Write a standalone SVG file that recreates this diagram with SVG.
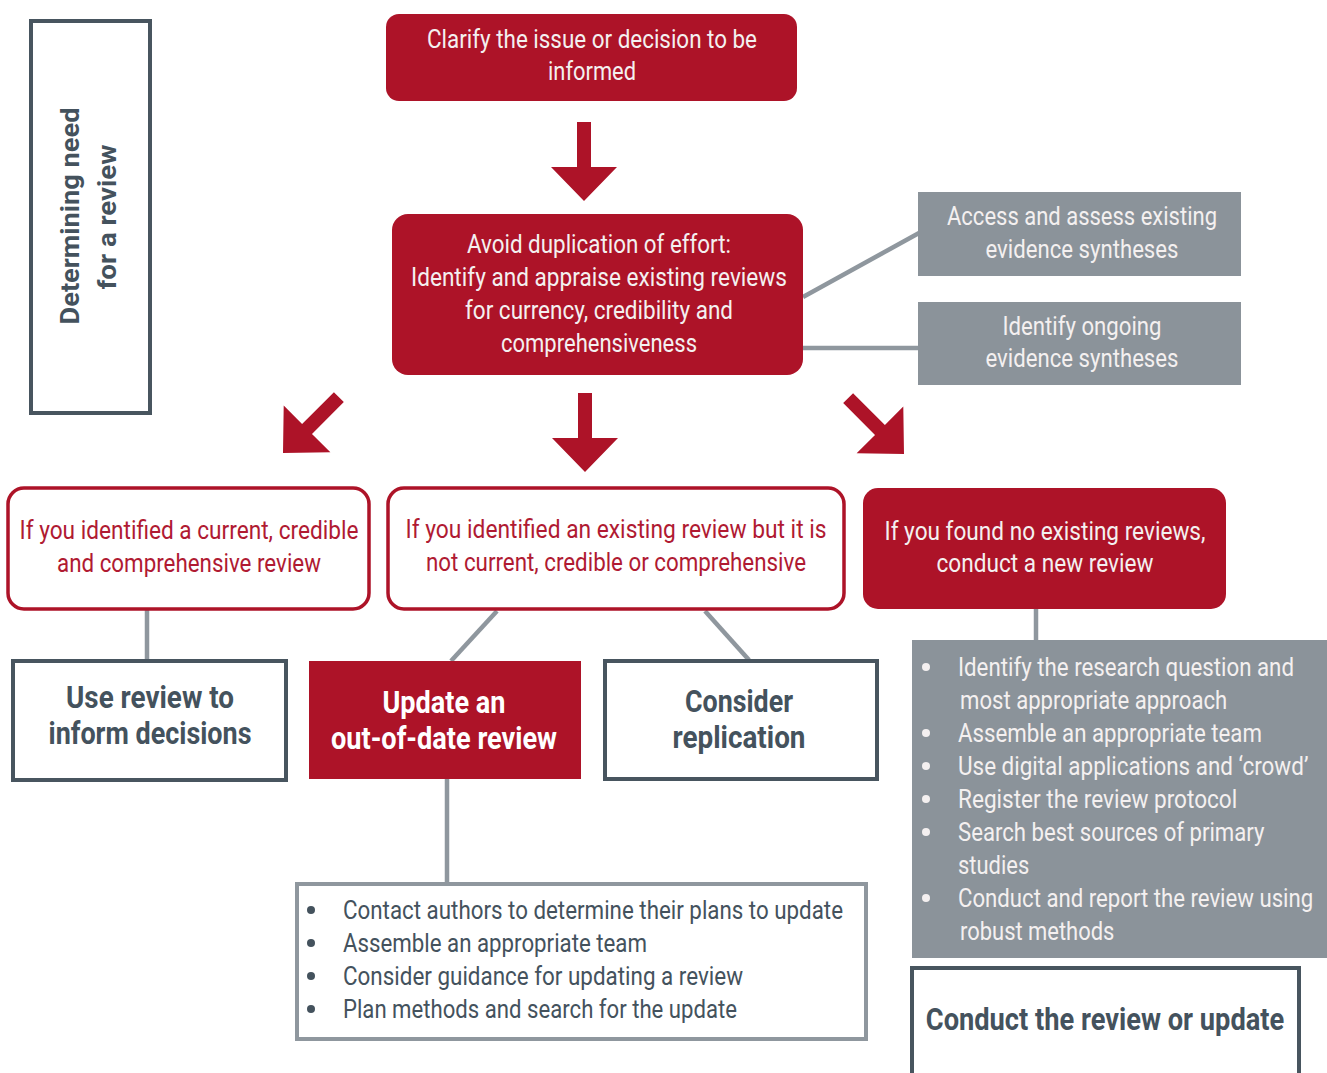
<svg xmlns="http://www.w3.org/2000/svg" width="1327" height="1073" viewBox="0 0 1327 1073">
<defs>
<style>
text{font-family:Roboto,"Liberation Sans",sans-serif;}
.t{font-size:25px;text-anchor:middle;}
.tl{font-size:25px;}
.w{fill:#f4f0f0;}
.r{fill:#b01a32;}
.s{fill:#44525d;}
.b{font-weight:bold;font-size:31px;text-anchor:middle;fill:#44525d;}
.bw{font-weight:bold;font-size:31px;text-anchor:middle;fill:#ffffff;}
.redbox{fill:#ad1328;}
.redline{fill:#ffffff;stroke:#ad1328;stroke-width:3.5;}
.slate{fill:#ffffff;stroke:#48555f;stroke-width:4;}
.graybox{fill:#8b939a;}
.conn{stroke:#8f979e;stroke-width:4.5;fill:none;}
.arrow{fill:#ad1328;}
</style>
<path id="arr" d="M -7,-79 H 7 V -34 H 33 L 0,0 L -33,-34 H -7 Z"/>
</defs>

<g id="connectors">
<line class="conn" x1="803" y1="297" x2="919" y2="233"/>
<line class="conn" x1="803" y1="348" x2="919" y2="348"/>
<line class="conn" x1="147" y1="610" x2="147" y2="660"/>
<line class="conn" x1="497" y1="611" x2="451" y2="661"/>
<line class="conn" x1="705" y1="611" x2="749" y2="660"/>
<line class="conn" x1="447" y1="779" x2="447" y2="884"/>
<line class="conn" x1="1036" y1="609" x2="1036" y2="641"/>
<use href="#arr" class="arrow" transform="translate(584,201)"/>
<use href="#arr" class="arrow" transform="translate(585,472)"/>
<use href="#arr" class="arrow" transform="translate(283,453) rotate(45)"/>
<use href="#arr" class="arrow" transform="translate(904,454) rotate(-45)"/>
</g>

<g id="stage-label">
<rect x="31" y="21" width="119" height="392" fill="#ffffff" stroke="#48555f" stroke-width="4"/>
<text transform="translate(79,216) rotate(-90)" font-size="25" font-weight="bold" text-anchor="middle" fill="#44525d" textLength="217" lengthAdjust="spacingAndGlyphs">Determining need</text>
<text transform="translate(116,217) rotate(-90)" font-size="25" font-weight="bold" text-anchor="middle" fill="#44525d" textLength="145" lengthAdjust="spacingAndGlyphs">for a review</text>
</g>

<g id="clarify">
<rect class="redbox" x="386" y="14" width="411" height="87" rx="13"/>
<text class="t w" x="592" y="48" textLength="330" lengthAdjust="spacingAndGlyphs">Clarify the issue or decision to be</text>
<text class="t w" x="592" y="80" textLength="88" lengthAdjust="spacingAndGlyphs">informed</text>
</g>

<g id="avoid-duplication">
<rect class="redbox" x="392" y="214" width="411" height="161" rx="16"/>
<text class="t w" x="599" y="253" textLength="264" lengthAdjust="spacingAndGlyphs">Avoid duplication of effort:</text>
<text class="t w" x="599" y="286" textLength="376" lengthAdjust="spacingAndGlyphs">Identify and appraise existing reviews</text>
<text class="t w" x="599" y="319" textLength="268" lengthAdjust="spacingAndGlyphs">for currency, credibility and</text>
<text class="t w" x="599" y="352" textLength="196" lengthAdjust="spacingAndGlyphs">comprehensiveness</text>
</g>

<g id="access-assess">
<rect class="graybox" x="918" y="192" width="323" height="84"/>
<text class="t w" x="1082" y="225" textLength="270" lengthAdjust="spacingAndGlyphs">Access and assess existing</text>
<text class="t w" x="1082" y="258" textLength="193" lengthAdjust="spacingAndGlyphs">evidence syntheses</text>
</g>

<g id="identify-ongoing">
<rect class="graybox" x="918" y="302" width="323" height="83"/>
<text class="t w" x="1082" y="335" textLength="159" lengthAdjust="spacingAndGlyphs">Identify ongoing</text>
<text class="t w" x="1082" y="367" textLength="193" lengthAdjust="spacingAndGlyphs">evidence syntheses</text>
</g>

<g id="current-review">
<rect class="redline" x="8" y="488" width="361" height="121" rx="16"/>
<text class="t r" x="189" y="539" textLength="339" lengthAdjust="spacingAndGlyphs">If you identified a current, credible</text>
<text class="t r" x="189" y="572" textLength="264" lengthAdjust="spacingAndGlyphs">and comprehensive review</text>
</g>

<g id="existing-not-current">
<rect class="redline" x="388" y="488" width="456" height="121" rx="16"/>
<text class="t r" x="616" y="538" textLength="421" lengthAdjust="spacingAndGlyphs">If you identified an existing review but it is</text>
<text class="t r" x="616" y="571" textLength="380" lengthAdjust="spacingAndGlyphs">not current, credible or comprehensive</text>
</g>

<g id="no-existing">
<rect class="redbox" x="863" y="488" width="363" height="121" rx="15"/>
<text class="t w" x="1045" y="540" textLength="321" lengthAdjust="spacingAndGlyphs">If you found no existing reviews,</text>
<text class="t w" x="1045" y="572" textLength="217" lengthAdjust="spacingAndGlyphs">conduct a new review</text>
</g>

<g id="use-review">
<rect class="slate" x="13" y="661" width="273" height="119"/>
<text class="b" x="150" y="708" textLength="168" lengthAdjust="spacingAndGlyphs">Use review to</text>
<text class="b" x="150" y="744" textLength="203" lengthAdjust="spacingAndGlyphs">inform decisions</text>
</g>

<g id="update-review">
<rect class="redbox" x="309" y="661" width="272" height="118"/>
<text class="bw" x="444" y="713" textLength="123" lengthAdjust="spacingAndGlyphs">Update an</text>
<text class="bw" x="444" y="749" textLength="226" lengthAdjust="spacingAndGlyphs">out-of-date review</text>
</g>

<g id="replication">
<rect class="slate" x="605" y="661" width="272" height="118"/>
<text class="b" x="739" y="712" textLength="108" lengthAdjust="spacingAndGlyphs">Consider</text>
<text class="b" x="739" y="748" textLength="133" lengthAdjust="spacingAndGlyphs">replication</text>
</g>

<g id="update-steps">
<rect x="297" y="884" width="569" height="155" fill="#ffffff" stroke="#8f979e" stroke-width="4"/>
<g class="s">
<circle cx="311" cy="910" r="4"/>
<circle cx="311" cy="943" r="4"/>
<circle cx="311" cy="976" r="4"/>
<circle cx="311" cy="1009" r="4"/>
</g>
<text class="tl s" x="343" y="919" textLength="500" lengthAdjust="spacingAndGlyphs">Contact authors to determine their plans to update</text>
<text class="tl s" x="343" y="952" textLength="304" lengthAdjust="spacingAndGlyphs">Assemble an appropriate team</text>
<text class="tl s" x="343" y="985" textLength="400" lengthAdjust="spacingAndGlyphs">Consider guidance for updating a review</text>
<text class="tl s" x="343" y="1018" textLength="394" lengthAdjust="spacingAndGlyphs">Plan methods and search for the update</text>
</g>

<g id="new-review-steps">
<rect class="graybox" x="912" y="640" width="415" height="318"/>
<g class="w">
<circle cx="926" cy="667" r="4"/>
<circle cx="926" cy="733" r="4"/>
<circle cx="926" cy="766" r="4"/>
<circle cx="926" cy="799" r="4"/>
<circle cx="926" cy="832" r="4"/>
<circle cx="926" cy="898" r="4"/>
</g>
<text class="tl w" transform="translate(958,676) scale(0.8,1)" textLength="420" lengthAdjust="spacingAndGlyphs">Identify the research question and</text>
<text class="tl w" transform="translate(960,709) scale(0.8,1)" textLength="334" lengthAdjust="spacingAndGlyphs">most appropriate approach</text>
<text class="tl w" transform="translate(958,742) scale(0.8,1)" textLength="380" lengthAdjust="spacingAndGlyphs">Assemble an appropriate team</text>
<text class="tl w" transform="translate(958,775) scale(0.8,1)" textLength="438" lengthAdjust="spacingAndGlyphs">Use digital applications and ‘crowd’</text>
<text class="tl w" transform="translate(958,808) scale(0.8,1)" textLength="349" lengthAdjust="spacingAndGlyphs">Register the review protocol</text>
<text class="tl w" transform="translate(958,841) scale(0.8,1)" textLength="383" lengthAdjust="spacingAndGlyphs">Search best sources of primary</text>
<text class="tl w" transform="translate(958,874) scale(0.8,1)" textLength="89" lengthAdjust="spacingAndGlyphs">studies</text>
<text class="tl w" transform="translate(958,907) scale(0.8,1)" textLength="444" lengthAdjust="spacingAndGlyphs">Conduct and report the review using</text>
<text class="tl w" transform="translate(960,940) scale(0.8,1)" textLength="193" lengthAdjust="spacingAndGlyphs">robust methods</text>
</g>

<g id="conduct">
<rect class="slate" x="912" y="968" width="387" height="110"/>
<text class="b" transform="translate(1105,1030) scale(0.8,1)" textLength="448" lengthAdjust="spacingAndGlyphs">Conduct the review or update</text>
</g>
</svg>
